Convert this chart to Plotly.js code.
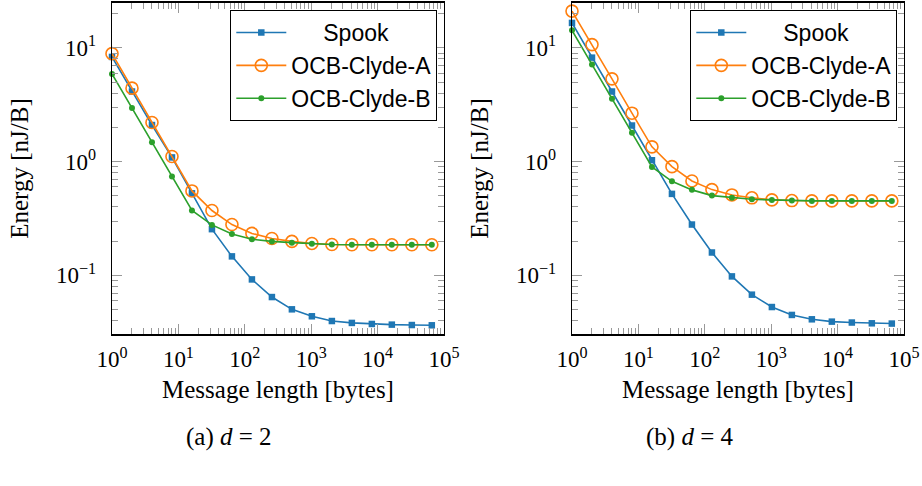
<!DOCTYPE html>
<html>
<head>
<meta charset="utf-8">
<script src="https://cdn.plot.ly/plotly-3.0.1.min.js"></script>
<style>html,body{margin:0;padding:0;background:#fff;}#chart{width:922px;height:486px;}</style>
</head>
<body>
<div id="chart"></div>
<script>
// Message lengths (bytes): powers of two from 1 to 65536
const msgLen = [1,2,4,8,16,32,64,128,256,512,1024,2048,4096,8192,16384,32768,65536];

// (a) d = 2  — energy [nJ/B]
const spookD2  = [8.34,4.14,2.10,1.09,0.527,0.255,0.147,0.0922,0.0645,0.0503,0.0437,0.0397,0.0382,0.0374,0.0369,0.0366,0.0364];
const clydeAD2 = [8.91,4.43,2.21,1.11,0.553,0.372,0.280,0.234,0.211,0.199,0.191,0.187,0.186,0.186,0.186,0.186,0.186];
const clydeBD2 = [5.91,2.96,1.48,0.739,0.372,0.278,0.231,0.208,0.199,0.194,0.190,0.187,0.186,0.186,0.186,0.186,0.186];

// (b) d = 4  — energy [nJ/B]
const spookD4  = [16.6,8.22,4.14,2.08,1.03,0.521,0.280,0.159,0.098,0.0677,0.0527,0.0449,0.0411,0.0392,0.0385,0.0379,0.0377];
const clydeAD4 = [21.1,10.7,5.35,2.67,1.35,0.904,0.677,0.568,0.510,0.481,0.461,0.455,0.452,0.452,0.452,0.452,0.452];
const clydeBD4 = [14.3,7.14,3.57,1.80,0.898,0.672,0.565,0.503,0.481,0.467,0.461,0.455,0.452,0.452,0.452,0.452,0.452];

const seriesNames = ['\u00a0\u00a0\u00a0\u00a0\u00a0Spook', 'OCB-Clyde-A', 'OCB-Clyde-B'];
const xTickVals = [1,10,100,1000,10000,100000];
const xTickText = ['10<sup>0</sup>','10<sup>1</sup>','10<sup>2</sup>','10<sup>3</sup>','10<sup>4</sup>','10<sup>5</sup>'];
const yTickVals = [0.1,1,10];
const yTickText = ['10<sup>\u22121</sup>','10<sup>0</sup>','10<sup>1</sup>'];
const subCaptions = ['(a) <i>d</i> = 2', '(b) <i>d</i> = 4'];
const xTitle = 'Message length [bytes]';
const yTitle = 'Energy [nJ/B]';

const BLUE = '#1f77b4', ORANGE = '#ff7f0e', GREEN = '#2ca02c';

function mk(y, idx, xa, ya, leg) {
  const styles = [
    {line:{color:BLUE,width:1.6}, marker:{symbol:'square',size:6.5,color:BLUE}},
    {line:{color:ORANGE,width:1.6}, marker:{symbol:'circle-open',size:12,color:ORANGE,line:{width:1.6,color:ORANGE}}},
    {line:{color:GREEN,width:1.6}, marker:{symbol:'circle',size:6,color:GREEN}}
  ][idx];
  return Object.assign({
    type:'scatter', mode:'lines+markers', x:msgLen, y:y, name:seriesNames[idx],
    xaxis:xa, yaxis:ya, legend:leg, cliponaxis:false
  }, styles);
}

const data = [
  mk(spookD2,0,'x','y','legend'), mk(clydeAD2,1,'x','y','legend'), mk(clydeBD2,2,'x','y','legend'),
  mk(spookD4,0,'x2','y2','legend2'), mk(clydeAD4,1,'x2','y2','legend2'), mk(clydeBD4,2,'x2','y2','legend2')
];

const serif = 'Liberation Serif, DejaVu Serif, serif';
const sans = 'Liberation Sans, DejaVu Sans, sans-serif';
const W = 922, H = 486;
const yDom = [(H-334.3)/H, (H-2.7)/H];

function xAx(dom) {
  return {
    type:'log', domain:dom, range:[0,5], showgrid:false, zeroline:false,
    showline:true, linecolor:'#000', linewidth:1.3, mirror:'ticks',
    ticks:'inside', ticklen:10, tickcolor:'#999', tickwidth:1,
    tickvals:xTickVals, ticktext:xTickText, ticklabelstandoff:4,
    tickfont:{family:serif, size:23, color:'#000'},
    minor:{ticks:'inside', ticklen:6, tickcolor:'#999', tickwidth:1, dtick:'D1', showgrid:false},
    title:{text:xTitle, font:{family:serif, size:25, color:'#000'}, standoff:9}
  };
}
function yAx(anchor) {
  return {
    type:'log', domain:yDom, range:[-1.518,1.398], anchor:anchor, showgrid:false, zeroline:false,
    showline:true, linecolor:'#000', linewidth:1.3, mirror:'ticks',
    ticks:'inside', ticklen:10, tickcolor:'#999', tickwidth:1,
    tickvals:yTickVals, ticktext:yTickText, ticklabelstandoff:10,
    tickfont:{family:serif, size:23, color:'#000'},
    minor:{ticks:'inside', ticklen:6, tickcolor:'#999', tickwidth:1, dtick:'D1', showgrid:false},
    title:{text:yTitle, font:{family:serif, size:25, color:'#000'}, standoff:20}
  };
}

const legendStyle = (xr) => ({
  x:xr/W, xanchor:'right', y:(H-10)/H, yanchor:'top',
  bordercolor:'#000', borderwidth:1, bgcolor:'#fff',
  font:{family:sans, size:23, color:'#000'}, tracegroupgap:0, itemwidth:50
});

const layout = {
  width:W, height:H, margin:{l:0,r:0,t:0,b:0},
  paper_bgcolor:'#fff', plot_bgcolor:'#fff', showlegend:true,
  xaxis: Object.assign(xAx([112/W, 444/W]), {anchor:'y'}),
  yaxis: yAx('x'),
  xaxis2: Object.assign(xAx([572/W, 904/W]), {anchor:'y2'}),
  yaxis2: yAx('x2'),
  legend: legendStyle(437.3),
  legend2: legendStyle(897.3),
  annotations: [
    {text:subCaptions[0], x:229/W, y:(H-437)/H, xref:'paper', yref:'paper', showarrow:false,
     xanchor:'center', yanchor:'middle', font:{family:serif, size:25, color:'#000'}},
    {text:subCaptions[1], x:690/W, y:(H-437)/H, xref:'paper', yref:'paper', showarrow:false,
     xanchor:'center', yanchor:'middle', font:{family:serif, size:25, color:'#000'}}
  ]
};

Plotly.newPlot('chart', data, layout, {staticPlot:true, displayModeBar:false});
</script>
</body>
</html>
